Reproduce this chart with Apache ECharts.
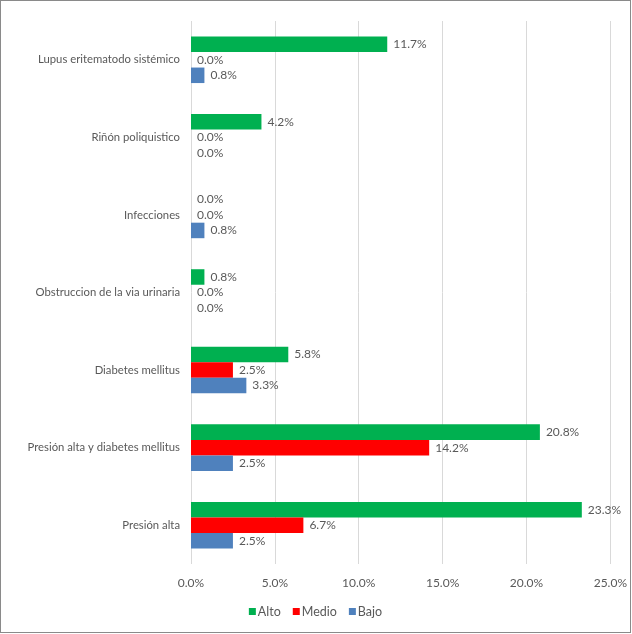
<!DOCTYPE html>
<html><head><meta charset="utf-8">
<script src="https://cdn.jsdelivr.net/npm/echarts@6/dist/echarts.min.js"></script>
<style>
html,body{margin:0;padding:0;background:#fff;}
#wrap{position:absolute;left:0;top:0;width:629px;height:631px;border:1px solid #8a8a8a;box-sizing:content-box;}
#chart{width:629px;height:631px;}
</style></head>
<body><div id="wrap"><div id="chart"></div></div>
<script>
const categories = ["Presión alta","Presión alta y diabetes mellitus","Diabetes mellitus","Obstruccion de la via urinaria","Infecciones","Riñón poliquistico","Lupus eritematodo sistémico"];
const alto  = [23.3, 20.8, 5.8, 0.8, 0.0, 4.2, 11.7];
const medio = [6.7, 14.2, 2.5, 0.0, 0.0, 0.0, 0.0];
const bajo  = [2.5, 2.5, 3.3, 0.0, 0.8, 0.0, 0.8];
const xTicks = [0, 5, 10, 15, 20, 25];

const font = 'Lato, "Open Sans", sans-serif';
const lab = {show:true, position:'right', distance:6, color:'#595959', fontSize:12, fontFamily:font,
  formatter: p => p.value.toFixed(1) + '%'};
const chart = echarts.init(document.getElementById('chart'));
chart.setOption({
  animation:false,
  grid:{left:190, right:17, top:20, bottom:68, containLabel:false},
  legend:{data:['Alto','Medio','Bajo'], bottom:9, left:'center', itemWidth:7, itemHeight:7, itemGap:12,
    icon:'rect', textStyle:{color:'#595959', fontSize:12.5, fontFamily:font, padding:[0,0,0,-3]}},
  xAxis:{type:'value', min:xTicks[0], max:xTicks[xTicks.length-1], interval:5,
    axisLine:{show:false}, axisTick:{show:false},
    splitLine:{lineStyle:{color:'#d9d9d9'}},
    axisLabel:{color:'#595959', fontSize:12, fontFamily:font, margin:13, formatter: v => v.toFixed(1)+'%'}},
  yAxis:{type:'category', data:categories, axisLine:{show:false}, axisTick:{show:false},
    axisLabel:{color:'#595959', fontSize:11.3, fontFamily:font, margin:11}},
  series:[
    {name:'Alto', type:'bar', data:alto, itemStyle:{color:'#00B050'}, label:lab, barGap:'0%', barCategoryGap:'40%'},
    {name:'Medio', type:'bar', data:medio, itemStyle:{color:'#FF0000'}, label:lab, barGap:'0%', barCategoryGap:'40%'},
    {name:'Bajo', type:'bar', data:bajo, itemStyle:{color:'#4F81BD'}, label:lab, barGap:'0%', barCategoryGap:'40%'}
  ]
});
</script></body></html>
